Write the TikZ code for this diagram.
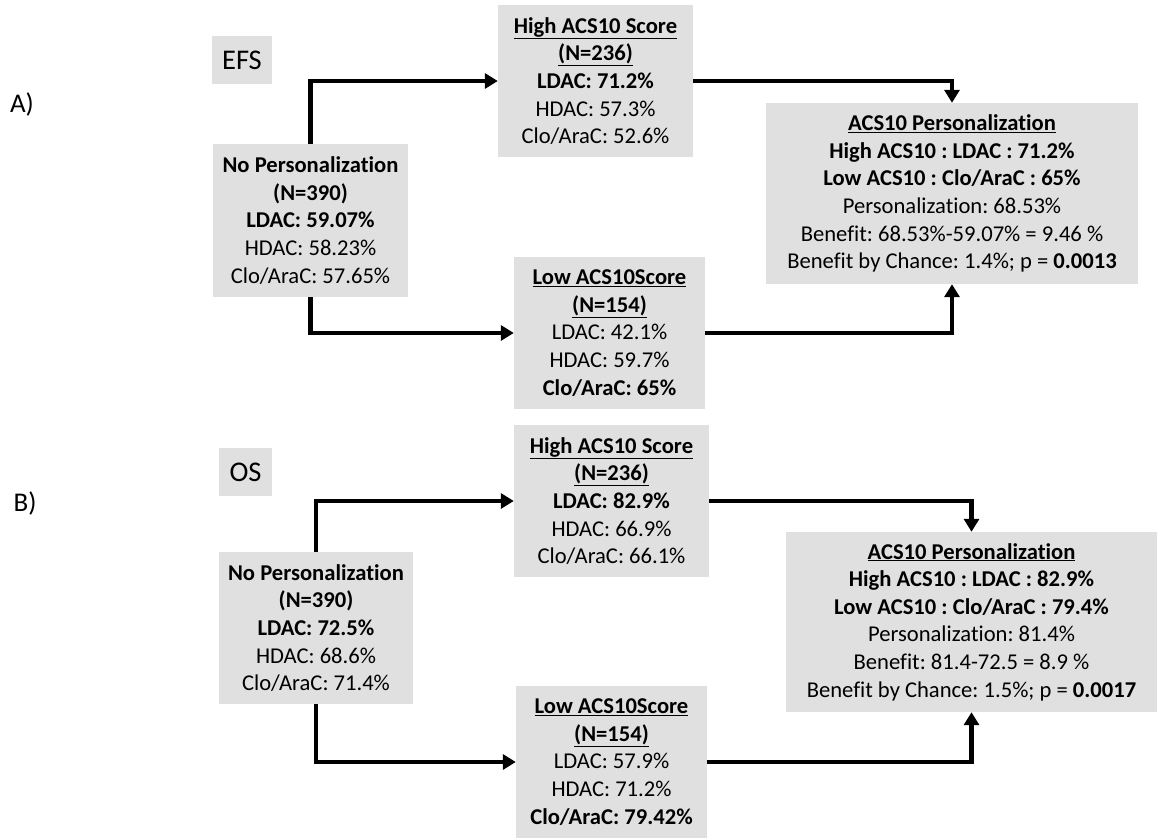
\documentclass[tikz,border=0pt]{standalone}
\usepackage{fontspec}
\setmainfont{Carlito}[Ligatures=NoCommon]
\usetikzlibrary{arrows.meta}
\frenchspacing
\definecolor{boxgray}{RGB}{224,224,224}
\tikzset{
  box/.style={fill=boxgray, draw=none, inner sep=0pt, align=center,
    font=\fontsize{22.6}{27.6}\selectfont},
  tag/.style={fill=boxgray, draw=none, inner sep=0pt,
    font=\fontsize{28.5}{30}\selectfont},
  panel/.style={inner sep=0pt, font=\fontsize{27}{30}\selectfont},
  arr/.style={line width=4.5pt, -{Triangle[length=13pt,width=15pt]}}
}
\begin{document}
\begin{tikzpicture}[x=1pt,y=-1pt]
\useasboundingbox (0,0) rectangle (1157,840);
% ---------- Panel A ----------
\node[panel] (pa) at (22,104) {A)};
\node[tag, minimum width=60pt, minimum height=48pt] (efs) at (242,60) {EFS};
\node[box, minimum width=195pt, minimum height=153pt] (np1) at (310.5,220.5)
  {\textbf{No Personalization}\\\textbf{(N=390)}\\\textbf{LDAC: 59.07\%}\\HDAC: 58.23\%\\Clo/AraC: 57.65\%};
\node[box, minimum width=195pt, minimum height=152pt] (hi1) at (595.5,81)
  {\textbf{\underline{High ACS10 Score}}\\\textbf{\underline{(N=236)}}\\\textbf{LDAC: 71.2\%}\\HDAC: 57.3\%\\Clo/AraC: 52.6\%};
\node[box, minimum width=191pt, minimum height=152pt] (lo1) at (609.5,333)
  {\textbf{\underline{Low ACS10Score}}\\\textbf{\underline{(N=154)}}\\LDAC: 42.1\%\\HDAC: 59.7\%\\\textbf{Clo/AraC: 65\%}};
\node[box, minimum width=372pt, minimum height=181pt] (acs1) at (952,193.5)
  {\textbf{\underline{ACS10 Personalization}}\\\textbf{High ACS10 : LDAC : 71.2\%}\\\textbf{Low ACS10 : Clo/AraC : 65\%}\\Personalization: 68.53\%\\Benefit: 68.53\%-59.07\% = 9.46 \%\\Benefit by Chance: 1.4\%; p = \textbf{0.0013}};
\draw[arr] (np1.north) |- (hi1.west);
\draw[arr] (np1.south) |- (lo1.west);
\draw[arr] (hi1.east) -| (acs1.north);
\draw[arr] (lo1.east) -| (acs1.south);
% ---------- Panel B ----------
\node[panel] (pb) at (25,503) {B)};
\node[tag, minimum width=53pt, minimum height=48pt] (os) at (245.5,472) {OS};
\node[box, minimum width=194pt, minimum height=152pt] (np2) at (316,628)
  {\textbf{No Personalization}\\\textbf{(N=390)}\\\textbf{LDAC: 72.5\%}\\HDAC: 68.6\%\\Clo/AraC: 71.4\%};
\node[box, minimum width=195pt, minimum height=152pt] (hi2) at (611.5,501)
  {\textbf{\underline{High ACS10 Score}}\\\textbf{\underline{(N=236)}}\\\textbf{LDAC: 82.9\%}\\HDAC: 66.9\%\\Clo/AraC: 66.1\%};
\node[box, minimum width=191pt, minimum height=152pt] (lo2) at (611.5,762)
  {\textbf{\underline{Low ACS10Score}}\\\textbf{\underline{(N=154)}}\\LDAC: 57.9\%\\HDAC: 71.2\%\\\textbf{Clo/AraC: 79.42\%}};
\node[box, minimum width=371pt, minimum height=180pt] (acs2) at (971.5,622)
  {\textbf{\underline{ACS10 Personalization}}\\\textbf{High ACS10 : LDAC : 82.9\%}\\\textbf{Low ACS10 : Clo/AraC : 79.4\%}\\Personalization: 81.4\%\\Benefit: 81.4-72.5 = 8.9 \%\\Benefit by Chance: 1.5\%; p = \textbf{0.0017}};
\draw[arr] (np2.north) |- (hi2.west);
\draw[arr] (np2.south) |- (lo2.west);
\draw[arr] (hi2.east) -| (acs2.north);
\draw[arr] (lo2.east) -| (acs2.south);
\end{tikzpicture}
\end{document}
